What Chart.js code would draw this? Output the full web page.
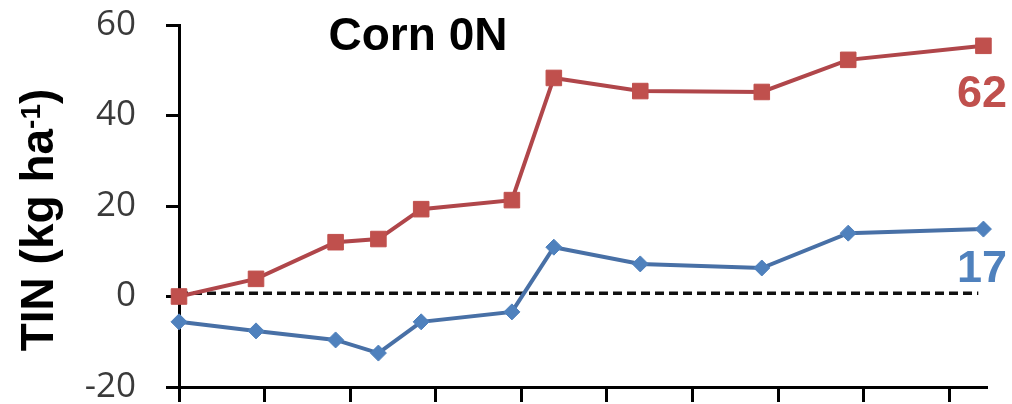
<!DOCTYPE html>
<html>
<head>
<meta charset="utf-8">
<title>Corn 0N – TIN</title>
<script src="https://cdn.jsdelivr.net/npm/chart.js@4/dist/chart.umd.min.js"></script>
<style>
  html, body { margin: 0; padding: 0; background: #ffffff; }
  #wrap { width: 1012px; height: 404px; }
</style>
</head>
<body>
<div id="wrap"><canvas id="c" width="1012" height="404"></canvas></div>
<script>
// Sampling positions along the season (axis units, tick every 10)
const samplingX = [0, 9.0, 18.3, 23.3, 28.3, 38.9, 43.8, 53.9, 68.1, 78.2, 94.0];
// Total inorganic N, kg ha-1
const tinRed  = [0, 3.9, 12.0, 12.7, 19.3, 21.3, 48.3, 45.4, 45.2, 52.3, 55.4];
const tinBlue = [-5.6, -7.6, -9.6, -12.5, -5.6, -3.4, 10.9, 7.2, 6.3, 14.0, 14.9];
// Reference level drawn as a dashed line
const refX = [0, 93.4];
const refY = [0.7, 0.7];
// Y axis ticks
const yTicks = [-20, 0, 20, 40, 60];
// End-of-season totals printed beside the series
const endLabels = ['62', '17'];
const chartTitle = 'Corn 0N';

const RED = '#C0504D', RED_LINE = '#B0464A';
const BLUE = '#4F81BD', BLUE_LINE = '#4870A6';

const pts = (xs, ys) => xs.map((x, i) => ({ x: x, y: ys[i] }));

const textPlugin = {
  id: 'textPlugin',
  beforeDraw(chart) {
    const ctx = chart.ctx;
    ctx.save();
    ctx.fillStyle = '#ffffff';
    ctx.fillRect(0, 0, chart.width, chart.height);
    ctx.restore();
  },
  afterDraw(chart) {
    const ctx = chart.ctx;
    ctx.save();
    // Title
    ctx.fillStyle = '#000000';
    ctx.font = 'bold 46px "Liberation Sans", Arial, sans-serif';
    ctx.textAlign = 'center';
    ctx.textBaseline = 'alphabetic';
    ctx.fillText(chartTitle, 418, 50);

    // Y axis title with superscript
    const mainFont = 'bold 46px "Liberation Sans", Arial, sans-serif';
    const supFont = 'bold 28px "Liberation Sans", Arial, sans-serif';
    const p1 = 'TIN (kg ha', sup = '-1', p2 = ')';
    ctx.font = mainFont; const w1 = ctx.measureText(p1).width; const w3 = ctx.measureText(p2).width;
    ctx.font = supFont; const w2 = ctx.measureText(sup).width;
    const total = w1 + w2 + w3;
    ctx.translate(53, 220);
    ctx.rotate(-Math.PI / 2);
    ctx.textAlign = 'left';
    let x0 = -total / 2;
    ctx.font = mainFont; ctx.fillText(p1, x0, 0);
    ctx.font = supFont; ctx.fillText(sup, x0 + w1, -13);
    ctx.font = mainFont; ctx.fillText(p2, x0 + w1 + w2, 0);
    ctx.setTransform(1, 0, 0, 1, 0, 0);

    // End labels
    ctx.font = 'bold 45px "Liberation Sans", Arial, sans-serif';
    ctx.textAlign = 'center';
    ctx.fillStyle = RED;
    ctx.fillText(endLabels[0], 982, 107);
    ctx.fillStyle = BLUE;
    ctx.fillText(endLabels[1], 982, 282);
    ctx.restore();
  }
};

new Chart(document.getElementById('c'), {
  type: 'line',
  data: {
    datasets: [
      {
        data: pts(samplingX, tinRed),
        borderColor: RED_LINE, borderWidth: 4,
        pointStyle: 'rect', pointRadius: 11,
        pointBackgroundColor: RED, pointBorderColor: RED, pointBorderWidth: 1,
        tension: 0, clip: false, order: 1
      },
      {
        data: pts(samplingX, tinBlue),
        borderColor: BLUE_LINE, borderWidth: 4,
        pointStyle: 'rectRot', pointRadius: 8,
        pointBackgroundColor: BLUE, pointBorderColor: BLUE, pointBorderWidth: 1,
        tension: 0, clip: false, order: 2
      },
      {
        data: pts(refX, refY),
        borderColor: '#111111', borderWidth: 3.5, borderDash: [9, 5],
        pointRadius: 0, tension: 0, clip: false, order: 3
      }
    ]
  },
  options: {
    responsive: false,
    animation: false,
    events: [],
    layout: { padding: { left: 0, right: 26, top: 25, bottom: 0 } },
    plugins: { legend: { display: false }, tooltip: { enabled: false }, title: { display: false } },
    scales: {
      x: {
        type: 'linear',
        min: 0, max: 94.3,
        border: { display: true, color: '#000000', width: 3 },
        grid: { display: true, drawOnChartArea: false, drawTicks: true, tickLength: 15, color: '#000000', lineWidth: 3 },
        ticks: { display: false, stepSize: 10, includeBounds: false },
        afterFit(scale) {
          scale.height = 17;
          scale.paddingLeft = 0; scale.paddingRight = 0;
          scale.paddingTop = 0; scale.paddingBottom = 0;
        }
      },
      y: {
        min: yTicks[0], max: yTicks[yTicks.length - 1],
        border: { display: true, color: '#000000', width: 3 },
        grid: { display: true, drawOnChartArea: false, drawTicks: true, tickLength: 13, color: '#000000', lineWidth: 3 },
        afterBuildTicks(scale) { scale.ticks = yTicks.map(v => ({ value: v })); },
        ticks: {
          padding: 30,
          color: '#3a3a3a',
          font: { family: '"Open Sans", sans-serif', size: 35 }
        },
        afterFit(scale) {
          scale.width = 179;
          scale.paddingTop = 0; scale.paddingBottom = 0;
          scale.paddingLeft = 0; scale.paddingRight = 0;
        }
      }
    }
  },
  plugins: [textPlugin]
});
</script>
</body>
</html>
